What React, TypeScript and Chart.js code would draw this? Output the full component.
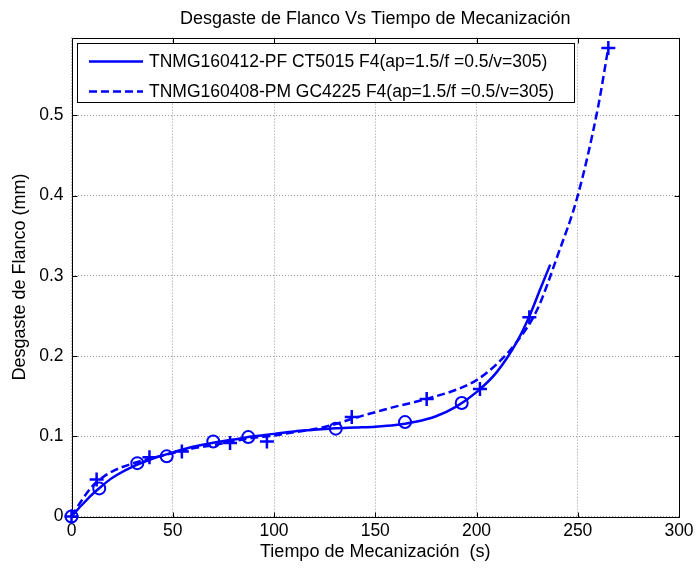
import React, { useEffect, useRef } from "react";
import { Chart, registerables } from "chart.js";

Chart.register(...registerables);

const TITLE = "Desgaste de Flanco Vs Tiempo de Mecanización";
const X_LABEL = "Tiempo de Mecanización  (s)";
const Y_LABEL = "Desgaste de Flanco (mm)";
const SERIES_NAMES = [
  "TNMG160412-PF CT5015 F4(ap=1.5/f =0.5/v=305)",
  "TNMG160408-PM GC4225 F4(ap=1.5/f =0.5/v=305)",
];

// Measured points (markers)
const PF_TIME = [0, 13.7, 32.5, 47, 70, 87.3, 130.5, 164.7, 192.7];
const PF_WEAR = [0, 0.035, 0.0665, 0.075, 0.0935, 0.099, 0.1095, 0.1177, 0.1415];
const PM_TIME = [0, 12.4, 38.5, 54.5, 78.3, 96.5, 138.4, 175.4, 201.7, 226.1, 265.1];
const PM_WEAR = [0, 0.046, 0.074, 0.081, 0.0915, 0.0935, 0.124, 0.1465, 0.159, 0.2485, 0.584];

// Fitted curves
const PF_FIT_TIME = [0, 5, 10, 15, 20, 30, 40, 50, 60, 70, 80, 90, 100, 110, 120, 130, 140, 150, 160, 170, 180, 190, 200, 210, 220, 226, 231.4, 236.4];
const PF_FIT_WEAR = [0, 0.014, 0.027, 0.038, 0.048, 0.062, 0.072, 0.08, 0.087, 0.092, 0.096, 0.1, 0.103, 0.106, 0.108, 0.11, 0.111, 0.112, 0.114, 0.118, 0.125, 0.137, 0.155, 0.18, 0.218, 0.249, 0.283, 0.314];
const PM_FIT_TIME = [0, 5, 10, 15, 20, 30, 40, 50, 60, 70, 80, 90, 100, 110, 120, 130, 140, 150, 160, 170, 180, 190, 200, 210, 220, 230, 240, 250, 260, 265];
const PM_FIT_WEAR = [0, 0.02, 0.037, 0.048, 0.056, 0.066, 0.073, 0.079, 0.085, 0.089, 0.094, 0.098, 0.101, 0.105, 0.109, 0.115, 0.123, 0.13, 0.137, 0.143, 0.15, 0.158, 0.17, 0.19, 0.218, 0.258, 0.325, 0.4, 0.51, 0.583];

const X_MIN = 0;
const X_MAX = 300;
const X_STEP = 50;
const Y_MIN = 0;
const Y_MAX = 0.597;
const Y_STEP = 0.1;

const toXY = (xs: number[], ys: number[]) => xs.map((x, i) => ({ x, y: ys[i] }));

const BLUE = "#0000ff";
const FONT = "'Liberation Sans', Arial, Helvetica, sans-serif";

const matlabPlugin = {
  id: "matlabAxes",
  beforeDatasetsDraw(chart: any) {
    const { ctx, chartArea: a, scales } = chart;
    ctx.save();
    ctx.strokeStyle = "#000";
    ctx.lineWidth = 1;
    const L = Math.round(a.left) + 0.5;
    const R = Math.round(a.right) + 0.5;
    const T = Math.round(a.top) + 0.5;
    const B = Math.round(a.bottom) + 0.5;
    ctx.beginPath();
    ctx.rect(L, T, R - L, B - T);
    const tl = 5;
    scales.x.ticks.forEach((t: any) => {
      const px = Math.round(scales.x.getPixelForValue(t.value)) + 0.5;
      ctx.moveTo(px, B);
      ctx.lineTo(px, B - tl);
      ctx.moveTo(px, T);
      ctx.lineTo(px, T + tl);
    });
    scales.y.ticks.forEach((t: any) => {
      const py = Math.round(scales.y.getPixelForValue(t.value)) + 0.5;
      ctx.moveTo(L, py);
      ctx.lineTo(L + tl, py);
      ctx.moveTo(R, py);
      ctx.lineTo(R - tl, py);
    });
    ctx.stroke();
    ctx.restore();
  },
  afterDatasetsDraw(chart: any) {
    const { ctx, chartArea: a } = chart;
    const entries = chart.data.datasets.filter((d: any) => d.inLegend);
    ctx.save();
    ctx.font = `17.5px ${FONT}`;
    const textOff = 71.5;
    let maxW = 0;
    entries.forEach((d: any) => {
      maxW = Math.max(maxW, ctx.measureText(d.label).width);
    });
    const lx = Math.round(a.left + 5) + 0.5;
    const ly = Math.round(a.top + 5) + 0.5;
    const w = Math.round(textOff + maxW + 20);
    const h = 59;
    ctx.fillStyle = "#fff";
    ctx.fillRect(lx, ly, w, h);
    ctx.strokeStyle = "#000";
    ctx.lineWidth = 1;
    ctx.strokeRect(lx, ly, w, h);
    entries.forEach((d: any, i: number) => {
      const y = ly + 18 + i * 30;
      ctx.beginPath();
      ctx.strokeStyle = d.borderColor;
      ctx.lineWidth = 2.5;
      ctx.setLineDash(d.borderDash || []);
      ctx.moveTo(lx + 11.5, y);
      ctx.lineTo(lx + 65.5, y);
      ctx.stroke();
      ctx.setLineDash([]);
      ctx.fillStyle = "#000";
      ctx.textBaseline = "middle";
      ctx.textAlign = "left";
      ctx.fillText(d.label, lx + textOff, y + 1);
    });
    ctx.restore();
  },
};

export default function App() {
  const ref = useRef<HTMLCanvasElement | null>(null);
  useEffect(() => {
    if (!ref.current) return;
    Chart.defaults.font.family = FONT;
    Chart.defaults.color = "#000";
    const gridColor = "#9a9a9a";
    const chart = new Chart(ref.current, {
      type: "scatter",
      data: {
        datasets: [
          {
            label: SERIES_NAMES[0],
            inLegend: true,
            data: toXY(PF_FIT_TIME, PF_FIT_WEAR),
            showLine: true,
            borderColor: BLUE,
            borderWidth: 2.5,
            pointRadius: 0,
            cubicInterpolationMode: "monotone",
            clip: false,
          } as any,
          {
            label: SERIES_NAMES[1],
            inLegend: true,
            data: toXY(PM_FIT_TIME, PM_FIT_WEAR),
            showLine: true,
            borderColor: BLUE,
            borderWidth: 2.5,
            borderDash: [8, 4],
            pointRadius: 0,
            cubicInterpolationMode: "monotone",
            clip: false,
          } as any,
          {
            label: SERIES_NAMES[0] + " (datos)",
            data: toXY(PF_TIME, PF_WEAR),
            showLine: false,
            pointStyle: "circle",
            pointRadius: 6,
            borderColor: BLUE,
            backgroundColor: "rgba(0,0,0,0)",
            pointBorderWidth: 2,
            clip: false,
          } as any,
          {
            label: SERIES_NAMES[1] + " (datos)",
            data: toXY(PM_TIME, PM_WEAR),
            showLine: false,
            pointStyle: "cross",
            pointRadius: 7,
            borderColor: BLUE,
            backgroundColor: BLUE,
            pointBorderWidth: 2.5,
            clip: false,
          } as any,
        ],
      },
      options: {
        animation: false,
        responsive: false,
        events: [],
        layout: { padding: { top: 0, left: 0, right: 19, bottom: 0 } },
        plugins: {
          legend: { display: false },
          tooltip: { enabled: false },
          title: {
            display: true,
            text: TITLE,
            fullSize: false,
            color: "#000",
            font: { size: 18, weight: "normal", family: FONT },
            padding: { top: 8, bottom: 8 },
          },
        },
        scales: {
          x: {
            type: "linear",
            min: X_MIN,
            max: X_MAX,
            ticks: { stepSize: X_STEP, padding: 4, color: "#000", font: { size: 17.5 }, maxRotation: 0, autoSkip: false },
            grid: { color: gridColor, lineWidth: 1, drawTicks: false },
            border: { display: false, dash: [1, 2] },
            title: { display: true, text: X_LABEL, color: "#000", font: { size: 18 }, padding: { top: 0, bottom: 8 } },
            afterFit(s: any) {
              s.height = 54.5;
            },
          },
          y: {
            type: "linear",
            min: Y_MIN,
            max: Y_MAX,
            ticks: { stepSize: Y_STEP, includeBounds: false, padding: 8, color: "#000", font: { size: 17.5 } },
            grid: { color: gridColor, lineWidth: 1, drawTicks: false },
            border: { display: false, dash: [1, 2] },
            title: { display: true, text: Y_LABEL, color: "#000", font: { size: 18 }, padding: { top: 9, bottom: 0 } },
            afterFit(s: any) {
              s.width = 71.5;
            },
          },
        },
      } as any,
      plugins: [matlabPlugin],
    });
    return () => chart.destroy();
  }, []);
  return (
    <div style={{ position: "absolute", left: 0, top: 0, width: 698, height: 571, background: "#fff" }}>
      <canvas ref={ref} width={698} height={571} style={{ display: "block", width: 698, height: 571 }} />
    </div>
  );
}
